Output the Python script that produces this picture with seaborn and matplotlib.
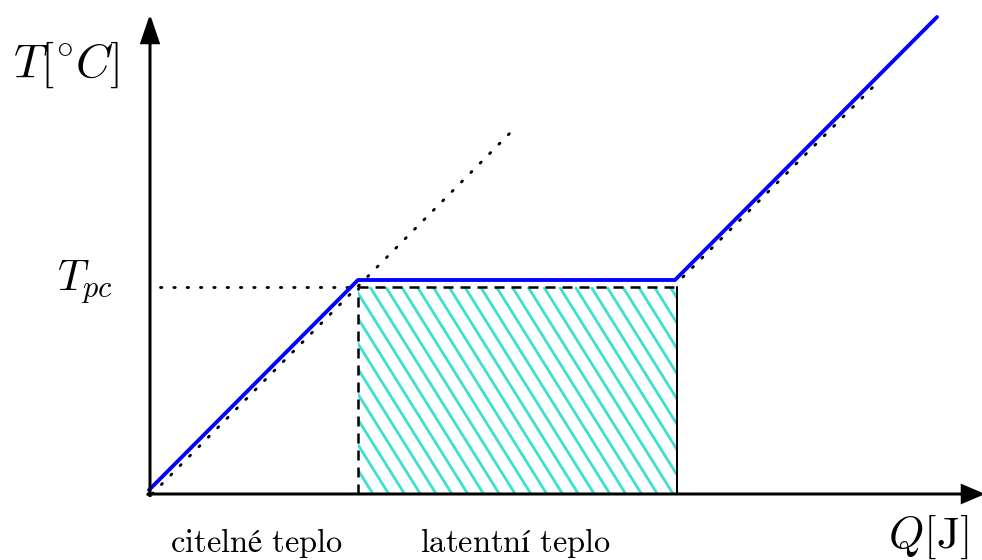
import numpy as np
import matplotlib
matplotlib.use("Agg")
import matplotlib.pyplot as plt
from matplotlib.collections import LineCollection
from matplotlib.patches import Rectangle
import seaborn as sns

sns.set_theme(style="white")
plt.rcParams["mathtext.fontset"] = "cm"
plt.rcParams["text.color"] = "black"

# Heating curve of a phase-change material (arbitrary units)
heat_q = [-0.01, 2.08, 5.25, 7.87]
heat_t = [0.04, 2.14, 2.14, 4.77]

# Extrapolated sensible-heat lines
sens_q1 = [0.02, 3.63]
sens_t1 = [0.00, 3.64]
sens_q2 = [5.33, 7.30]
sens_t2 = [2.17, 4.14]

# Phase-change temperature and latent-heat interval
t_pc = 2.07
q_melt_start = 2.08
q_melt_end = 5.27
tpc_line_q = [0.10, 2.08]

axis_q_max = 8.32
axis_t_max = 4.76

labels_region = ["citelné teplo", "latentní teplo"]
label_q = [1.06, 3.65]

fig = plt.figure(figsize=(982 / 120, 560 / 120), dpi=120)
ax = fig.add_axes([0, 0, 1, 1])
ax.set_xlim(-1.50, 8.32)
ax.set_ylim(-0.66, 4.94)
ax.axis("off")

# Hatched latent-heat region
rect = Rectangle((q_melt_start, 0), q_melt_end - q_melt_start, t_pc,
                 facecolor="none", edgecolor="none")
ax.add_patch(rect)
slope = 1.6
step = 0.158
phase = 2.20
drop = t_pc / slope
starts = np.arange(phase - np.ceil((phase - q_melt_start + drop) / step) * step,
                   q_melt_end + step, step)
segs = [[(s, t_pc), (s + drop, 0)] for s in starts]
hatch = LineCollection(segs, colors="#40E0D0", linewidths=1.7, zorder=2)
ax.add_collection(hatch)
hatch.set_clip_path(rect)

# Dashed outline of the latent-heat region
dash = (0, (4, 2.8))
ax.plot([q_melt_start, q_melt_start], [0, t_pc], color="black", lw=1.5,
        linestyle=dash, zorder=3)
ax.plot([q_melt_start, q_melt_end], [t_pc, t_pc], color="black", lw=1.5,
        linestyle=dash, zorder=3)
ax.plot([q_melt_end, q_melt_end], [0, t_pc], color="black", lw=1.2, zorder=3)

# Dotted guide lines
dot = (0, (0.5, 4.2))
for qq, tt in [(sens_q1, sens_t1), (sens_q2, sens_t2), (tpc_line_q, [t_pc, t_pc])]:
    ax.plot(qq, tt, color="black", lw=1.7, linestyle=dot,
            dash_capstyle="round", zorder=3)

# Heating curve
sns.lineplot(x=heat_q, y=heat_t, sort=False, estimator=None, color="#0000FF",
             lw=2.3, ax=ax, zorder=4)

# Axes with arrow heads
ax.plot([-0.03, 0], [0, 0], color="black", lw=1.5)
ax.arrow(0, -0.03, 0, axis_t_max + 0.03, width=0.0, head_width=0.17,
         head_length=0.25, length_includes_head=True, color="black", lw=1.5,
         zorder=5)
ax.arrow(-0.03, 0, axis_q_max + 0.03, 0, width=0.0, head_width=0.17,
         head_length=0.2, length_includes_head=True, color="black", lw=1.5,
         zorder=5)

# Text
ax.text(-0.84, 4.29, r"$T[{}^{\circ}C]$", fontsize=28.5, ha="center", va="center")
ax.text(-0.65, 2.12, r"$T_{pc}$", fontsize=26, ha="center", va="center")
ax.text(7.78, -0.43, r"$Q[\mathrm{J}]$", fontsize=27, ha="center", va="center")
for txt, qx in zip(labels_region, label_q):
    ax.text(qx, -0.49, "$\\mathrm{" + txt.replace(" ", "\\ ") + "}$",
            fontsize=19.5, ha="center", va="center")

fig.savefig("out.png", dpi=120)
